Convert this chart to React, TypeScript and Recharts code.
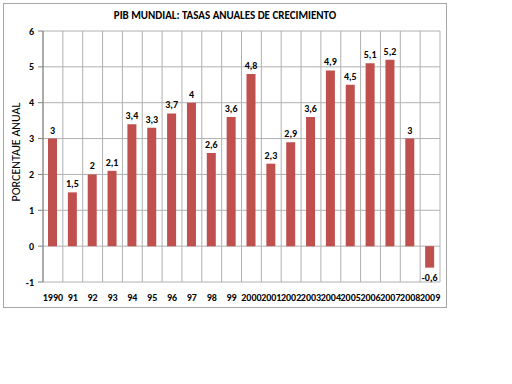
import { Bar, BarChart, CartesianGrid, LabelList, XAxis, YAxis } from "recharts";

const years = [
  "1990", "91", "92", "93", "94", "95", "96", "97", "98", "99",
  "2000", "2001", "2002", "2003", "2004", "2005", "2006", "2007", "2008", "2009",
];
const growth = [3, 1.5, 2, 2.1, 3.4, 3.3, 3.7, 4, 2.6, 3.6, 4.8, 2.3, 2.9, 3.6, 4.9, 4.5, 5.1, 5.2, 3, -0.6];
const yTicks = [-1, 0, 1, 2, 3, 4, 5, 6];

const data = years.map((year, i) => ({ year, value: growth[i] }));

const font = "'Liberation Sans Narrow', Carlito, 'Liberation Sans', Arial, sans-serif";
const fmt = (v: number) => String(v).replace(".", ",");

function BarLabel(props: any) {
  const { x, y, width, height, value } = props;
  const top = Math.min(y, y + height);
  const bottom = Math.max(y, y + height);
  const ly = value < 0 ? bottom + 13 : top - 5;
  return (
    <text x={x + width / 2} y={ly} textAnchor="middle" fontSize={10} fontWeight="bold" fill="#000" fontFamily={font}>
      {fmt(value)}
    </text>
  );
}

export default function App() {
  return (
    <div style={{ position: "fixed", left: 0, top: 0, width: 512, height: 384, background: "#fff", fontFamily: font }}>
      <div style={{ position: "absolute", left: 3, top: 3, width: 444, height: 305, border: "1px solid #a6a6a6", boxSizing: "border-box" }} />
      <div style={{ position: "absolute", left: 0, top: 9, width: 450, textAlign: "center", fontSize: 11, fontWeight: "bold" }}>
        PIB MUNDIAL: TASAS ANUALES DE CRECIMIENTO
      </div>
      <div
        style={{
          position: "absolute", left: 16, top: 152, fontSize: 12, whiteSpace: "nowrap",
          transform: "translate(-50%, -50%) rotate(-90deg)",
        }}
      >
        PORCENTAJE ANUAL
      </div>
      <div style={{ position: "absolute", left: 0, top: 0 }}>
        <BarChart width={450} height={310} data={data} margin={{ top: 31, right: 10, left: 0, bottom: 0 }}>
          <CartesianGrid
            stroke="#b0b0b0"
            verticalCoordinatesGenerator={({ offset }: any) =>
              Array.from({ length: years.length + 1 }, (_, i) => offset.left + (i * offset.width) / years.length)
            }
          />
          <XAxis
            dataKey="year"
            interval={0}
            axisLine={false}
            tickLine={false}
            height={28}
            tick={{ fontSize: 10, fontWeight: "bold", fill: "#000", fontFamily: font }}
            tickMargin={6}
          />
          <YAxis
            domain={[-1, 6]}
            ticks={yTicks}
            width={43}
            axisLine={{ stroke: "#808080" }}
            tickLine={{ stroke: "#808080" }}
            tickSize={5}
            tickMargin={4}
            tickFormatter={fmt}
            tick={{ fontSize: 10, fontWeight: "bold", fill: "#000", fontFamily: font }}
          />
          <Bar dataKey="value" fill="#C0504D" barSize={9} isAnimationActive={false}>
            <LabelList dataKey="value" content={BarLabel} />
          </Bar>
        </BarChart>
      </div>
    </div>
  );
}
